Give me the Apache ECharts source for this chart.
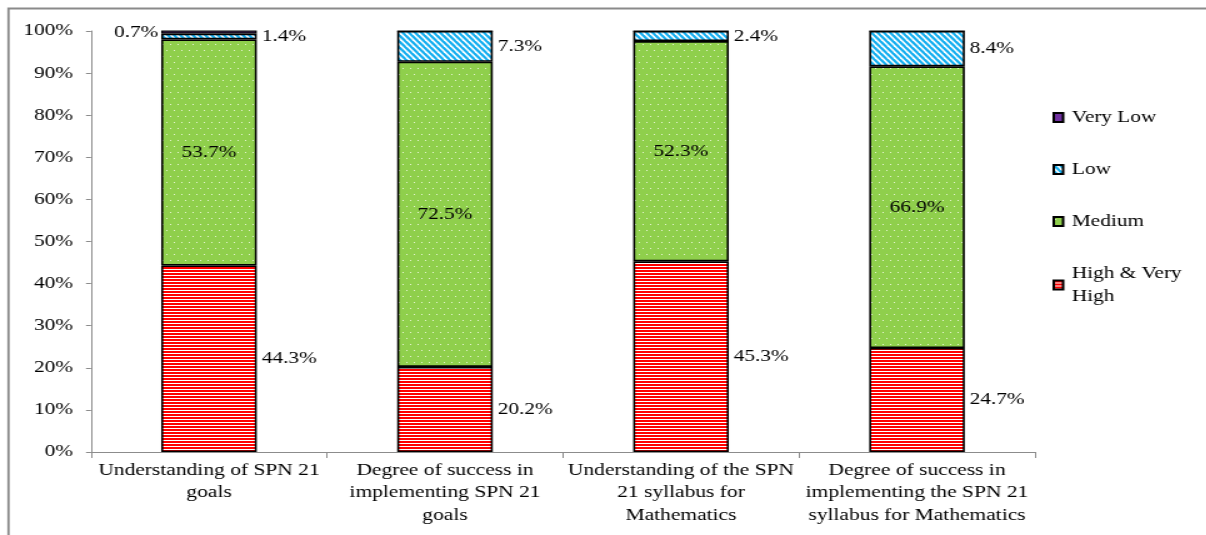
<!DOCTYPE html>
<html>
<head>
<meta charset="utf-8">
<script src="https://cdn.jsdelivr.net/npm/echarts@6/dist/echarts.min.js"></script>
<style>
  html, body { margin: 0; padding: 0; background: #fff; overflow: hidden; }
  #wrap { width: 1206px; height: 535px; overflow: hidden; position: relative; }
  #chart { width: 965px; height: 535px; transform: scaleX(1.25); transform-origin: 0 0; }
</style>
</head>
<body>
<div id="wrap"><div id="chart"></div></div>
<script>
const categories = [
  'Understanding of SPN 21\ngoals',
  'Degree of success in\nimplementing SPN 21\ngoals',
  'Understanding of the SPN\n21 syllabus for\nMathematics',
  'Degree of success in\nimplementing the SPN 21\nsyllabus for Mathematics'
];
const highVeryHigh = [44.3, 20.2, 45.3, 24.7];
const medium = [53.7, 72.5, 52.3, 66.9];
const low = [1.4, 7.3, 2.4, 8.4];
const veryLow = [0.7, 0, 0, 0];
const yTicks = [0, 10, 20, 30, 40, 50, 60, 70, 80, 90, 100];
const legendOrder = ['Very Low', 'Low', 'Medium', 'High & Very High'];

function makeTile(w, h, draw) {
  const c = document.createElement('canvas');
  c.width = w; c.height = h;
  const ctx = c.getContext('2d');
  draw(ctx, w, h);
  return c;
}
const redTile = makeTile(4, 3, (ctx, w, h) => {
  ctx.fillStyle = '#ffffff'; ctx.fillRect(0, 0, w, h);
  ctx.fillStyle = '#ff0000'; ctx.fillRect(0, 0, w, 2);
});
const blueTile = makeTile(5, 6, (ctx, w, h) => {
  ctx.fillStyle = '#ffffff'; ctx.fillRect(0, 0, w, h);
  ctx.strokeStyle = '#12aef0'; ctx.lineWidth = 2.2;
  for (let k = -1; k <= 1; k++) {
    ctx.beginPath();
    ctx.moveTo(k * w - 1, -1.2);
    ctx.lineTo(k * w + w + 1, h + 1.2);
    ctx.stroke();
  }
});
const greenTile = makeTile(6, 12, (ctx, w, h) => {
  ctx.fillStyle = '#8fcf4c'; ctx.fillRect(0, 0, w, h);
  ctx.fillStyle = '#e6f4d2';
  ctx.fillRect(1, 2, 1, 1);
  ctx.fillRect(4, 8, 1, 1);
});

const font = 'Liberation Serif';
const baseLabel = { color: '#000', fontFamily: font, fontSize: 17 };

const chart = echarts.init(document.getElementById('chart'));
chart.setOption({
  backgroundColor: '#fff',
  animation: false,
  graphic: [{
    type: 'rect', silent: true, z: -10,
    shape: { x: 6.8, y: 8.5, width: 1300, height: 700 },
    style: { fill: 'none', stroke: '#8a8a8a', lineWidth: 1.8 }
  }],
  grid: { left: 72.8, right: 137, top: 31, bottom: 83, containLabel: false },
  legend: {
    data: legendOrder,
    orient: 'vertical',
    left: 837,
    top: 101,
    itemWidth: 7.5,
    itemHeight: 9,
    itemGap: 29,
    icon: 'rect',
    formatter: n => n === 'High & Very High' ? 'High & Very\nHigh' : n,
    textStyle: { color: '#000', fontFamily: font, fontSize: 17, lineHeight: 23, padding: [0, 0, 0, 2] }
  },
  xAxis: {
    type: 'category',
    data: categories,
    axisLine: { lineStyle: { color: '#8c8c8c', width: 1 } },
    axisTick: { show: true, length: 6, lineStyle: { color: '#8c8c8c' } },
    axisLabel: { interval: 0, margin: 7, color: '#000', fontFamily: font, fontSize: 17.2, lineHeight: 22.5 }
  },
  yAxis: {
    type: 'value',
    min: yTicks[0],
    max: yTicks[yTicks.length - 1],
    interval: yTicks[1] - yTicks[0],
    splitLine: { show: false },
    axisLine: { show: true, lineStyle: { color: '#8c8c8c', width: 1 } },
    axisTick: { show: true, length: 4, lineStyle: { color: '#8c8c8c' } },
    axisLabel: { formatter: '{value}%', margin: 14.5, color: '#000', fontFamily: font, fontSize: 17 }
  },
  series: [
    {
      name: 'High & Very High', type: 'bar', stack: 's', barWidth: '40.5%',
      data: highVeryHigh,
      itemStyle: { color: { image: redTile, repeat: 'repeat' }, borderColor: '#000', borderWidth: 1.6 },
      label: Object.assign({ show: true, position: 'right', distance: 4, formatter: p => p.value.toFixed(1) + '%' }, baseLabel)
    },
    {
      name: 'Medium', type: 'bar', stack: 's',
      data: medium,
      itemStyle: { color: { image: greenTile, repeat: 'repeat' }, borderColor: '#000', borderWidth: 1.6 },
      label: Object.assign({ show: true, position: 'inside', formatter: p => p.value.toFixed(1) + '%' }, baseLabel)
    },
    {
      name: 'Low', type: 'bar', stack: 's',
      data: low,
      itemStyle: { color: { image: blueTile, repeat: 'repeat' }, borderColor: '#000', borderWidth: 1.6 },
      label: Object.assign({ show: true, position: 'right', distance: 4, formatter: p => p.value.toFixed(1) + '%' }, baseLabel)
    },
    {
      name: 'Very Low', type: 'bar', stack: 's',
      data: veryLow,
      itemStyle: { color: '#7030a0', borderColor: '#000', borderWidth: 1.2 },
      label: Object.assign({ show: true, position: 'left', distance: 2.4, formatter: p => p.value > 0 ? p.value.toFixed(1) + '%' : '' }, baseLabel)
    }
  ]
});
</script>
</body>
</html>
